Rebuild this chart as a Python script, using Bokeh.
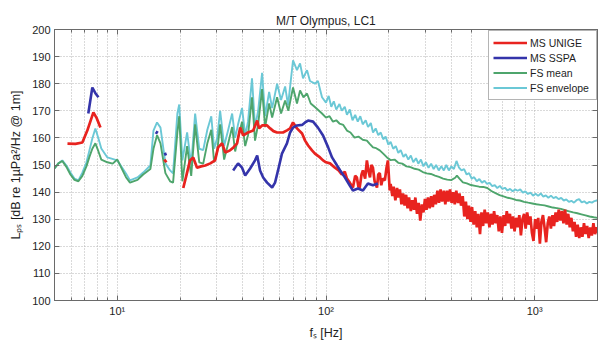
from bokeh.plotting import figure
from bokeh.models import FixedTicker, LinearAxis, LogAxis, Legend, LegendItem
from bokeh.embed import file_html
from bokeh.resources import INLINE

# ---------------- spectra: frequency [Hz] / level [dB re 1 uPa^2/Hz @ 1 m] ----------------

# MS UNIGE (three separate segments)
unige_f_a = [5.77, 6.3, 6.8, 7.18, 7.68, 7.94, 8.3]
unige_db_a = [157.9, 157.8, 158.3, 162.7, 169.4, 167.5, 163.8]
unige_f_b = [16.8, 17.2]
unige_db_b = [152.0, 151.0]
unige_f_c = [
    20.7, 21.4, 22.3, 23.1, 24.1, 25.2, 26.4, 27.9, 29.4, 30.4, 31.8, 32.9, 34.7, 36.0, 37.5,
    38.8, 40.1, 42.3, 44.8, 46.8, 47.8, 49.4, 52.2, 54.0, 56.0, 58.3, 62.2, 65.0, 67.3, 69.5,
    72.6, 76.8, 79.4, 82.1, 85.7, 88.5, 93.6, 96.8, 100, 104.5, 110.4, 115, 119, 123, 126,
    130, 134.6, 138, 140.6, 143, 145, 148, 150.3, 154, 157, 160, 162.5, 165, 167.8, 171,
    175.5, 178, 181, 184, 187, 191.4, 195, 198, 202,
]
unige_db_c = [
    141.5, 146, 151.7, 152.8, 149, 149.5, 149.8, 150.6, 151.7, 156.5, 158, 154.6, 155.4, 156.5, 158,
    163.8, 160.9, 162, 162.7, 166.4, 163.5, 164.6, 164.6, 163.5, 162.5, 162, 162, 162.8, 163.5, 165.7,
    163.5, 161.6, 159, 157.2, 155.4, 154.2, 152.8, 151.7, 151, 150.6, 149, 148, 146.5, 147.5, 145,
    143.5, 141.7, 146, 145.4, 142, 141.7, 146.5, 148, 145, 151.7, 147.5, 145.4, 150, 149, 144,
    141.7, 146.5, 147, 142.5, 145, 144.3, 149, 151.7, 140.6,
]
# continuation of the last segment above 200 Hz, as (frequency, level) pairs
unige_hi = [
    (204, 143), (208, 138.5), (211, 142), (215, 137), (219, 141.5), (222, 138), (226, 141),
    (230, 135.5), (234, 139.5), (238, 135), (242, 139), (246, 134), (250, 138), (255, 133),
    (259, 137), (264, 133.5), (268, 138), (273, 132), (278, 136), (283, 129.5), (288, 135.5),
    (293, 132.5), (298, 137.5), (303, 133.5), (308, 138), (314, 134), (319, 138.5), (325, 134.5),
    (330, 139), (336, 135.5), (342, 140.5), (348, 136), (354, 141), (360, 136.5), (367, 140.5),
    (373, 135.5), (380, 140.5), (386, 136.5), (393, 141), (400, 136), (407, 140), (414, 135.5),
    (421, 140.5), (429, 136), (436, 139.5), (444, 135), (452, 138.5), (460, 131), (468, 136.5),
    (476, 130), (484, 135), (493, 129), (501, 134.5), (510, 128), (519, 133), (528, 127),
    (537, 132), (547, 124.5), (556, 132.5), (566, 127.5), (576, 133.5), (586, 128.5), (596, 132.5),
    (607, 127), (617, 132), (628, 128), (639, 133), (650, 128.5), (662, 131.5), (673, 125.5),
    (685, 131), (697, 125), (710, 131.5), (722, 127.5), (735, 133), (748, 128.5), (761, 132),
    (774, 126.5), (788, 131), (801, 125.5), (815, 130.5), (830, 127), (844, 131.5), (859, 124),
    (874, 130), (890, 132), (905, 126.5), (921, 132.5), (937, 128), (954, 131), (970, 125),
    (987, 122), (1005, 130), (1022, 126.5), (1040, 130.5), (1059, 121), (1077, 129), (1096, 131.5),
    (1115, 127), (1135, 121.5), (1155, 128.5), (1175, 131), (1196, 126.5), (1217, 131.5),
    (1238, 127.5), (1260, 132.5), (1282, 129), (1304, 133.5), (1327, 129.5), (1351, 133), (1374, 128.5),
    (1398, 133.5), (1423, 128), (1448, 132), (1473, 127), (1499, 130.5), (1525, 125.5),
    (1552, 129), (1579, 123.5), (1607, 128), (1635, 123), (1664, 127), (1693, 123.5),
    (1723, 128.5), (1753, 124.5), (1784, 127.5), (1815, 123), (1847, 127), (1879, 124),
    (1912, 128.5), (1946, 124.5), (1980, 127), (2000, 125),
]

# MS SSPA (four separate segments)
sspa_f_a = [7.26, 7.43, 7.59, 7.85, 8.12]
sspa_db_a = [169, 174, 178.6, 176.5, 175]
sspa_f_b = [15.3, 15.6]
sspa_db_b = [161.5, 162.5]
sspa_f_c = [16.9, 17.1]
sspa_db_c = [154.5, 153.5]
sspa_f_d = [
    35.9, 37.9, 39.6, 41.0, 43.3, 45.7, 46.8, 48.3, 50.0, 52.2, 55.2, 57.0, 58.9, 61.5, 65.0,
    67.3, 69.5, 72.6, 76.8, 79.4, 82.1, 86.7, 91.5, 96.8, 102.4, 106.9, 113, 117, 123.3, 130,
    134.6, 142.3, 150.3, 158.8, 167.8, 177.4,
]
sspa_db_d = [
    148, 150.6, 149, 146.1, 148.7, 151.7, 153.5, 148, 145.4, 143.5, 141.7, 143.5, 148, 154.2, 158,
    162, 163.8, 164.6, 164.8, 165.7, 166.4, 166, 163.8, 160.9, 156.5, 152.8, 149.8, 148, 145.4, 142.4,
    140.6, 141.3, 140.6, 143.2, 142.5, 143.2,
]

# FS mean, below 100 Hz
fs_mean_f = [
    5.0, 5.22, 5.45, 5.70, 5.96, 6.23, 6.51, 6.80, 7.11, 7.35, 7.59, 7.85, 8.12, 8.38, 8.96, 9.5,
    10, 11, 11.5, 12.5, 13.3, 14.4, 14.9, 15.5, 16.1, 17.0, 17.9, 18.5, 19.4, 19.8, 20.5, 21.6,
    22.6, 23.6, 24.7, 25.8, 27.0, 28.2, 29.1, 30.1, 31.1, 32.5, 34.0, 35.5, 36.7, 37.9, 39.6,
    41.0, 42.3, 44.2, 45.7, 47.3, 49.4, 51.1, 53.4, 55.2, 58.3, 60.9, 63.7, 66, 69.5, 72.6, 75.1,
    78, 81.1, 84.5, 89, 95.7,
]
fs_mean_db = [
    148.7, 150.6, 151.5, 149.3, 146.5, 144.5, 144, 146, 149.5, 153, 156, 158, 155, 152, 151, 150.5,
    152, 145.5, 143.5, 144.5, 146.5, 148.5, 156, 161, 158, 147, 144, 143.5, 162, 168, 144, 157,
    146, 165, 151, 150.5, 158, 163, 151, 155, 165, 152, 158, 164, 155, 160, 166,
    157, 161, 175, 159, 165, 178, 164, 172.7, 167.5, 175, 169, 173.8, 170, 178.6, 172.7, 177.5,
    175, 176.4, 172.7, 171.2, 169,
]
# FS mean from 100 Hz up, as (frequency, level) pairs
fs_mean_hi = [
    (100, 167.5), (104, 168), (108, 166), (112, 166.5), (116, 165.3), (121, 164.8), (126, 162.7),
    (131, 162), (137, 160.1), (143, 160.5), (150, 159.3), (157, 159), (162, 157.8), (168, 156.5),
    (174, 156.2), (181, 155.4), (188, 154.2), (196, 152.8), (204, 151.8), (213, 152), (222, 150.8),
    (232, 150.5), (243, 149.5), (254, 149.2), (266, 148.6), (278, 148.3), (291, 147.4), (304, 146.9),
    (318, 146.7), (333, 146.1), (348, 145.6), (364, 145), (381, 144.6), (398, 144.4), (416, 145.3),
    (424, 146.1), (436, 145), (453, 143.6), (473, 143.2), (495, 142.6), (518, 142.3), (542, 142),
    (567, 141.9), (593, 141.5), (620, 140.4), (649, 139.6), (679, 138.9), (710, 138.4), (743, 137.9),
    (777, 137.6), (813, 137.1), (850, 136.9), (890, 136.4), (931, 136.1), (974, 135.8), (1019, 135.5),
    (1066, 135.3), (1115, 135.1), (1167, 134.7), (1221, 134.3), (1277, 134.1), (1336, 133.8),
    (1398, 133.3), (1463, 132.9), (1530, 132.5), (1601, 132.2), (1675, 131.8), (1752, 131.4),
    (1833, 131), (1918, 130.7), (2000, 130.5),
]

# FS envelope, below 100 Hz
fs_env_f = [
    5.0, 5.22, 5.45, 5.70, 5.96, 6.23, 6.51, 6.80, 7.11, 7.35, 7.59, 7.85, 8.12, 8.38, 8.96, 10,
    11.0, 11.5, 12.5, 13.3, 14.4, 14.9, 15.5, 16.1, 17.0, 17.9, 18.5, 19.4, 19.8, 20.5, 21.6,
    22.6, 23.6, 24.7, 25.8, 27.0, 28.2, 29.1, 30.1, 31.1, 32.5, 34.0, 35.5, 36.7, 37.9, 39.6,
    41.0, 42.3, 44.2, 45.7, 47.3, 49.4, 51.1, 53.4, 55.2, 58.3, 60.9, 63.7, 65.8, 69.5, 72.6,
    75.1, 77.6, 81.1, 83.8, 88.5, 91.5, 95.7,
]
fs_env_db = [
    148.7, 150.6, 151.7, 149.8, 147.2, 145, 144.3, 147.2, 150.9, 155.4, 159.8, 163.5, 159.8, 156.1, 152.8, 151.7,
    146.9, 144.3, 145.4, 147.2, 149.8, 162.7, 165.7, 163.8, 150.6, 148, 146.9, 169, 172.3, 151.7, 162,
    150, 169, 156, 155.5, 163, 168, 156, 160, 170, 157, 163, 169, 160, 165, 171,
    161, 166, 182, 164, 170, 184, 168, 177, 171, 180, 174, 179, 172, 188.6, 185,
    187.5, 182, 185, 181, 180, 181, 175,
]
# FS envelope from 100 Hz up, as (frequency, level) pairs
fs_env_hi = [
    (100, 173), (103, 175.5), (106, 171.5), (109, 173.5), (112, 170.5), (116, 172.5), (119, 170),
    (123, 171.5), (126, 168.5), (130, 170.5), (134, 166.5), (138, 168.5), (142, 166), (146, 168),
    (150, 165), (155, 166.5), (159, 164), (164, 165.5), (168, 162), (173, 163.5), (178, 161),
    (183, 162), (188, 159.5), (193, 160.5), (199, 157.5), (204, 158.5), (210, 156), (216, 157),
    (222, 154.5), (228, 155.5), (235, 153), (241, 154), (248, 152), (255, 153.5), (262, 151),
    (270, 152.5), (277, 150.5), (285, 152), (293, 149.5), (301, 151), (310, 149), (319, 150.5),
    (328, 148.5), (337, 150), (347, 148), (357, 149.5), (367, 148), (377, 150), (388, 148),
    (399, 149.5), (410, 148.5), (422, 151.5), (434, 149), (446, 148), (459, 148.5), (472, 146.5),
    (485, 147), (499, 145), (513, 145.5), (528, 144), (543, 144.8), (559, 143.5), (575, 144.2),
    (591, 143), (608, 143.4), (626, 142.2), (644, 142.6), (662, 141.5), (681, 142.3), (700, 141.2),
    (720, 141.6), (741, 140.6), (762, 141.2), (784, 140.3), (806, 141), (829, 140.5), (853, 141),
    (877, 139.8), (902, 140.3), (928, 139.3), (955, 139.8), (982, 138.7), (1010, 139.4),
    (1039, 138.6), (1069, 139.5), (1100, 138.3), (1131, 138.8), (1163, 137.9), (1197, 138.7),
    (1231, 137.8), (1266, 138.2), (1302, 137.4), (1340, 137.9), (1378, 136.9), (1418, 137.3),
    (1458, 136.4), (1500, 136.8), (1543, 136.1), (1587, 137), (1633, 137.4), (1680, 136.2),
    (1728, 136.6), (1777, 135.8), (1828, 136.4), (1881, 136.1), (1935, 136.7), (2000, 137),
]

SERIES_NAMES = ["MS UNIGE", "MS SSPA", "FS mean", "FS envelope"]
SERIES_COLORS = ["#e8231f", "#3434aa", "#4ea56c", "#6bc8d6"]

X_MAJOR = [10, 100, 1000]
X_MINOR = [5, 6, 7, 8, 9, 20, 30, 40, 50, 60, 70, 80, 90,
           200, 300, 400, 500, 600, 700, 800, 900, 2000]
X_LABELS = {10: "10¹", 100: "10²", 1000: "10³"}
Y_TICKS = [100, 110, 120, 130, 140, 150, 160, 170, 180, 190, 200]

TITLE = "M/T Olympus, LC1"
X_TITLE = "fₛ [Hz]"
Y_TITLE = "Lₚₛ [dB re 1µPa²/Hz @ 1m]"

FONT = "Liberation Sans"
INK = "#1e1e1e"
FRAME = "#6a6a6a"
GRID = "#b4b4b4"


def split(pairs):
    return [f for f, _ in pairs], [v for _, v in pairs]


env_hi_f, env_hi_db = split(fs_env_hi)
mean_hi_f, mean_hi_db = split(fs_mean_hi)
unige_hi_f, unige_hi_db = split(unige_hi)

p = figure(
    width=598, height=342,
    x_axis_type="log", x_range=(5, 2000), y_range=(100, 200),
    output_backend="svg", toolbar_location=None,
    min_border_left=54, min_border_right=1, min_border_top=29, min_border_bottom=42,
    background_fill_color="white", border_fill_color="white",
)
p.outline_line_color = FRAME
p.outline_line_width = 1

p.title.text = TITLE
p.title.align = "center"
p.title.text_font = FONT
p.title.text_font_size = "12px"
p.title.text_font_style = "normal"
p.title.text_color = INK
p.title.standoff = 4

# axes: MATLAB-style inward ticks
x_ticker = FixedTicker(ticks=X_MAJOR, minor_ticks=X_MINOR)
y_ticker = FixedTicker(ticks=Y_TICKS, minor_ticks=[])
for ax in p.xaxis:
    ax.ticker = x_ticker
    ax.major_label_overrides = X_LABELS
    ax.axis_label = X_TITLE
    ax.axis_label_standoff = 6
for ax in p.yaxis:
    ax.ticker = y_ticker
    ax.axis_label = Y_TITLE
    ax.axis_label_standoff = 6

for ax in list(p.xaxis) + list(p.yaxis):
    ax.axis_line_color = FRAME
    ax.major_tick_line_color = FRAME
    ax.minor_tick_line_color = FRAME
    ax.major_tick_in = 5
    ax.major_tick_out = 0
    ax.minor_tick_in = 3
    ax.minor_tick_out = 0
    ax.major_label_text_font = FONT
    ax.major_label_text_font_size = "11px"
    ax.major_label_text_color = INK
    ax.major_label_standoff = 4
    ax.axis_label_text_font = FONT
    ax.axis_label_text_font_size = "12.5px"
    ax.axis_label_text_font_style = "normal"
    ax.axis_label_text_color = INK

# mirrored tick marks on the right and top edges (labels hidden)
right_ax = LinearAxis(ticker=y_ticker, major_label_text_alpha=0, major_label_text_font_size="2px",
                      major_label_standoff=0, major_tick_in=5, major_tick_out=0,
                      axis_line_color=FRAME, major_tick_line_color=FRAME)
p.add_layout(right_ax, "right")
top_ax = LogAxis(ticker=x_ticker, major_label_text_alpha=0, major_label_text_font_size="2px",
                 major_label_standoff=0, major_tick_in=5, major_tick_out=0, minor_tick_in=3,
                 minor_tick_out=0, axis_line_color=FRAME, major_tick_line_color=FRAME,
                 minor_tick_line_color=FRAME)
p.add_layout(top_ax, "above")

# dotted grid on every decade and sub-decade line
p.xgrid.grid_line_color = GRID
p.xgrid.grid_line_dash = "1 2"
p.xgrid.minor_grid_line_color = GRID
p.xgrid.minor_grid_line_dash = "1 2"
p.ygrid.grid_line_color = GRID
p.ygrid.grid_line_dash = "1 2"

# curves (envelope at the back, measured spectra on top)
r_env = p.line(fs_env_f + env_hi_f, fs_env_db + env_hi_db,
               line_color=SERIES_COLORS[3], line_width=1.9)
r_mean = p.line(fs_mean_f + mean_hi_f, fs_mean_db + mean_hi_db,
                line_color=SERIES_COLORS[2], line_width=1.9)
r_unige = p.multi_line(xs=[unige_f_a, unige_f_b, unige_f_c + unige_hi_f],
                       ys=[unige_db_a, unige_db_b, unige_db_c + unige_hi_db],
                       line_color=SERIES_COLORS[0], line_width=2.7)
r_sspa = p.multi_line(xs=[sspa_f_a, sspa_f_b, sspa_f_c, sspa_f_d],
                      ys=[sspa_db_a, sspa_db_b, sspa_db_c, sspa_db_d],
                      line_color=SERIES_COLORS[1], line_width=2.6)

legend = Legend(
    items=[LegendItem(label=n, renderers=[r]) for n, r in
           zip(SERIES_NAMES, [r_unige, r_sspa, r_mean, r_env])],
    location=(434, 200),
    border_line_color=FRAME, border_line_width=1,
    background_fill_color="white", background_fill_alpha=1,
    label_text_font=FONT, label_text_font_size="10.5px", label_text_color=INK,
    glyph_width=34, glyph_height=15, label_height=15, label_width=62,
    spacing=0, padding=4, label_standoff=3, margin=0,
)
p.add_layout(legend)

open("out.html", "w").write(file_html(p, INLINE))
